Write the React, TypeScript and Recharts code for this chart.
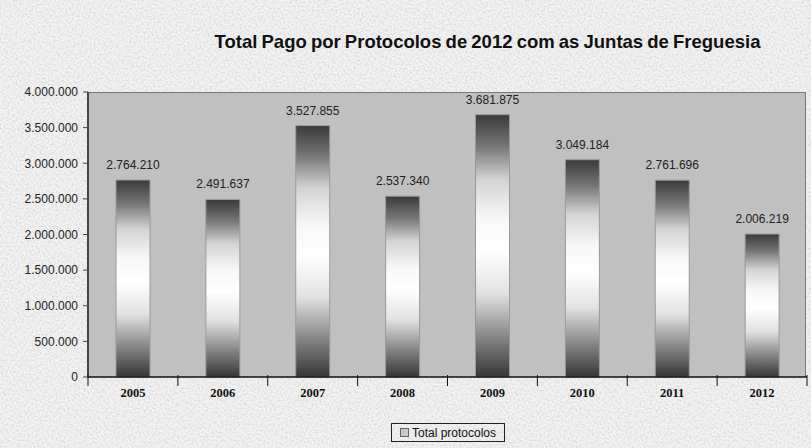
import { BarChart, Bar, XAxis, YAxis, LabelList } from "recharts";

const years = ["2005", "2006", "2007", "2008", "2009", "2010", "2011", "2012"];
const totals = [2764210, 2491637, 3527855, 2537340, 3681875, 3049184, 2761696, 2006219];
const yTicks = [0, 500000, 1000000, 1500000, 2000000, 2500000, 3000000, 3500000, 4000000];

const data = years.map((year, i) => ({ year, total: totals[i] }));

const W = 811;
const H = 448;
const PLOT_L = 88;
const PLOT_R = 807;
const PLOT_T = 92;
const PLOT_B = 377;
const BAND = (PLOT_R - PLOT_L) / years.length;

const fmt = (v: number) => String(Math.round(v)).replace(/\B(?=(\d{3})+(?!\d))/g, ".");

function YearTick(props: any) {
  const { x, y, payload, index } = props;
  const last = index === years.length - 1;
  return (
    <g>
      <line x1={x - BAND / 2} x2={x - BAND / 2} y1={y - 10} y2={y + 1} stroke="#111" />
      {last && <line x1={x + BAND / 2} x2={x + BAND / 2} y1={y - 10} y2={y + 1} stroke="#111" />}
      <text
        x={x}
        y={y + 12}
        textAnchor="middle"
        fontFamily="'Liberation Serif', 'Times New Roman', serif"
        fontWeight="bold"
        fontSize={12.5}
        fill="#111"
      >
        {payload.value}
      </text>
    </g>
  );
}

export default function App() {
  return (
    <div style={{ position: "absolute", left: 0, top: 0, width: W, height: H, overflow: "hidden" }}>
      <svg width={W} height={H} style={{ position: "absolute", left: 0, top: 0 }}>
        <defs>
          <filter id="granite" x="0" y="0" width="100%" height="100%">
            <feTurbulence type="fractalNoise" baseFrequency="0.5" numOctaves="3" seed="7" />
            <feColorMatrix
              type="matrix"
              values="0 0 0 0 0.5  0 0 0 0 0.5  0 0 0 0 0.5  1.6 0 0 0 -0.62"
            />
          </filter>
        </defs>
        <rect x={0} y={0} width={W} height={H} fill="#f3f3f3" />
        <rect x={0} y={0} width={W} height={H} filter="url(#granite)" opacity={0.65} />
      </svg>
      <div
        style={{
          position: "absolute",
          left: 0,
          width: 975,
          top: 31,
          textAlign: "center",
          fontFamily: "Arial, 'Liberation Sans', sans-serif",
          fontWeight: "bold",
          fontSize: 18.5,
          wordSpacing: -1,
          color: "#111",
        }}
      >
        Total Pago por Protocolos de 2012 com as Juntas de Freguesia
      </div>
      <div
        style={{
          position: "absolute",
          left: PLOT_L,
          top: PLOT_T,
          width: PLOT_R - PLOT_L - 1,
          height: PLOT_B - PLOT_T,
          background: "#c0c0c0",
          borderTop: "1px solid #7a7a7a",
          borderRight: "1px solid #7a7a7a",
          boxSizing: "border-box",
        }}
      />
      <div style={{ position: "absolute", left: 0, top: 0 }}>
        <BarChart
          width={W}
          height={H}
          data={data}
          margin={{ top: PLOT_T, right: W - PLOT_R, left: 0, bottom: H - PLOT_B - 30 }}
          barSize={34}
        >
          <defs>
            <linearGradient id="barGrad" x1="0" y1="0" x2="0" y2="1">
              <stop offset="0" stopColor="#3a3a3a" />
              <stop offset="0.12" stopColor="#767676" />
              <stop offset="0.25" stopColor="#d4d4d4" />
              <stop offset="0.4" stopColor="#f8f8f8" />
              <stop offset="0.52" stopColor="#ffffff" />
              <stop offset="0.68" stopColor="#e2e2e2" />
              <stop offset="0.84" stopColor="#8a8a8a" />
              <stop offset="1" stopColor="#363636" />
            </linearGradient>
          </defs>
          <XAxis
            dataKey="year"
            height={30}
            axisLine={{ stroke: "#111", strokeWidth: 1.5 }}
            tickLine={false}
            interval={0}
            tick={<YearTick />}
          />
          <YAxis
            width={PLOT_L}
            domain={[0, 4000000]}
            ticks={yTicks}
            interval={0}
            tickFormatter={fmt}
            axisLine={{ stroke: "#444", strokeWidth: 2 }}
            tickLine={{ stroke: "#444" }}
            tickSize={5}
            tickMargin={5}
            tick={{ fontFamily: "Arial, 'Liberation Sans', sans-serif", fontSize: 12, fill: "#222" }}
          />
          <Bar
            dataKey="total"
            fill="url(#barGrad)"
            stroke="#9a9a9a"
            strokeWidth={1}
            isAnimationActive={false}
          >
            <LabelList
              dataKey="total"
              position="top"
              offset={11}
              formatter={(v: any) => fmt(Number(v))}
              style={{ fontFamily: "Arial, 'Liberation Sans', sans-serif", fontSize: 12, fill: "#222" }}
            />
          </Bar>
        </BarChart>
      </div>
      <div
        style={{
          position: "absolute",
          left: 391,
          top: 423,
          width: 114,
          height: 19,
          border: "1px solid #222",
          boxSizing: "border-box",
          display: "flex",
          alignItems: "center",
          justifyContent: "center",
          fontFamily: "Arial, 'Liberation Sans', sans-serif",
          fontSize: 12,
          color: "#111",
        }}
      >
        <span
          style={{
            display: "inline-block",
            width: 7,
            height: 7,
            background: "#c8c8c8",
            border: "1px solid #666",
            marginRight: 3,
          }}
        />
        Total protocolos
      </div>
    </div>
  );
}
